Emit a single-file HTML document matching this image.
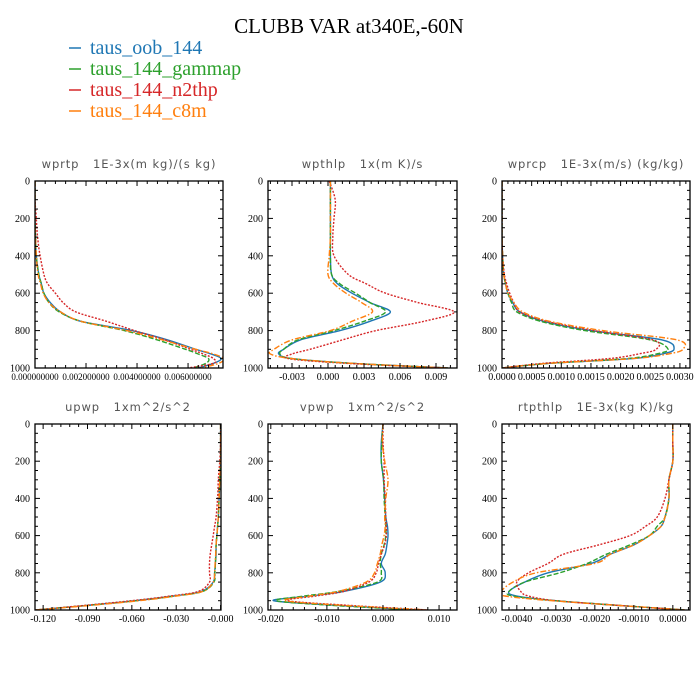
<!DOCTYPE html>
<html><head><meta charset="utf-8"><style>
body{margin:0;background:#fff}
svg{display:block}
.pt{white-space:pre}
</style></head><body>
<svg id="chart" width="700" height="700" viewBox="0 0 700 700" xmlns="http://www.w3.org/2000/svg">
<rect width="700" height="700" fill="#fff"/>
<text x="349" y="33" text-anchor="middle" font-family="Liberation Serif, serif" font-size="21" fill="#000">CLUBB VAR at340E,-60N</text>
<g font-family="Liberation Serif, serif" font-size="20">
<g><line x1="69" y1="48" x2="81" y2="48" stroke="#1f77b4" stroke-width="1.5"/><text x="90" y="54" fill="#1f77b4">taus_oob_144</text></g>
<g><line x1="69" y1="69" x2="81" y2="69" stroke="#2ca02c" stroke-width="1.5"/><text x="90" y="75" fill="#2ca02c">taus_144_gammap</text></g>
<g><line x1="69" y1="90" x2="81" y2="90" stroke="#d62728" stroke-width="1.5"/><text x="90" y="96" fill="#d62728">taus_144_n2thp</text></g>
<g><line x1="69" y1="111" x2="81" y2="111" stroke="#ff7f0e" stroke-width="1.5"/><text x="90" y="117" fill="#ff7f0e">taus_144_c8m</text></g>
</g>
<g id="panels"></g>
</svg>
<script>
const levels = [0,100,200,300,400,500,550,600,650,700,750,800,850,900,925,950,975,1000];
const seriesNames = ['taus_oob_144','taus_144_gammap','taus_144_n2thp','taus_144_c8m'];
const yTicks = [0,200,400,600,800,1000];

const wprtpBlue   = [0,0,0,0.02,0.05,0.15,0.25,0.35,0.6,1.0,1.8,3.8,5.2,6.3,6.9,7.3,7.0,6.4];
const wprtpGreen  = [0,0,0,0.02,0.05,0.15,0.25,0.35,0.55,0.95,1.8,3.5,4.8,5.9,6.4,6.8,6.7,6.2];
const wprtpRed    = [0,0,0.05,0.1,0.2,0.35,0.5,0.8,1.1,1.6,2.8,3.9,5.1,6.1,6.6,7.0,7.0,6.0];
const wprtpOrange = [0,0,0,0.02,0.05,0.12,0.22,0.32,0.55,1.0,1.8,3.6,5.0,6.3,7.0,7.4,7.2,6.5];
const wprtpTicks  = [0,2,4,6];
const wprtpLabels = ['0.000000000','0.002000000','0.004000000','0.006000000'];

const wpthlpBlue   = [0.0002,0.0002,0.0002,0.0002,0.0002,0.0003,0.0008,0.002,0.0035,0.0052,0.0035,0.001,-0.0023,-0.0037,-0.0041,-0.003,0.002,0.010];
const wpthlpGreen  = [0.0002,0.0002,0.0002,0.0002,0.0002,0.0003,0.001,0.0023,0.0035,0.0048,0.003,0.0005,-0.0025,-0.0037,-0.004,-0.003,0.002,0.010];
const wpthlpRed    = [0.0001,0.0006,0.0005,0.0004,0.0005,0.0017,0.0032,0.0048,0.0075,0.0105,0.008,0.004,0.0012,-0.0015,-0.003,-0.0033,0.0015,0.010];
const wpthlpOrange = [0.0002,0.0002,0.0002,0.0002,0.0001,0.0,0.0005,0.0015,0.0028,0.0037,0.002,0.0002,-0.003,-0.0045,-0.0048,-0.003,0.002,0.010];
const wpthlpTicks  = [-0.003,0,0.003,0.006,0.009];
const wpthlpLabels = ['-0.003','0.000','0.003','0.006','0.009'];

const wprcpBlue   = [0,0,0,0,0.01,0.03,0.06,0.1,0.18,0.3,0.7,1.5,2.7,2.9,2.7,2.2,0.8,0];
const wprcpGreen  = [0,0,0,0,0.01,0.03,0.06,0.1,0.16,0.25,0.65,1.4,2.5,2.8,2.6,2.1,0.8,0];
const wprcpRed    = [0,0,0,0,0.01,0.04,0.08,0.13,0.2,0.3,0.75,1.55,2.55,2.6,2.3,1.8,0.7,0];
const wprcpOrange = [0,0,0,0,0.01,0.03,0.06,0.1,0.2,0.35,0.8,1.7,2.95,3.05,2.8,2.2,0.8,0];
const wprcpTicks  = [0,0.5,1,1.5,2,2.5,3];
const wprcpLabels = ['0.0000','0.0005','0.0010','0.0015','0.0020','0.0025','0.0030'];

const upwpBlue   = [0,0,0,-0.0005,-0.001,-0.0015,-0.002,-0.0025,-0.003,-0.003,-0.0035,-0.004,-0.005,-0.013,-0.032,-0.058,-0.09,-0.125];
const upwpGreen  = [0,0,0,-0.0005,-0.001,-0.0015,-0.002,-0.0025,-0.003,-0.0032,-0.0035,-0.0038,-0.0045,-0.012,-0.031,-0.057,-0.09,-0.125];
const upwpRed    = [0,0,-0.0005,-0.0015,-0.002,-0.003,-0.004,-0.005,-0.006,-0.007,-0.0075,-0.0075,-0.0075,-0.015,-0.034,-0.06,-0.092,-0.125];
const upwpOrange = [0,0,0,-0.0005,-0.001,-0.0015,-0.002,-0.0025,-0.003,-0.0033,-0.0037,-0.004,-0.005,-0.012,-0.03,-0.055,-0.088,-0.125];
const upwpTicks  = [-0.12,-0.09,-0.06,-0.03,0];
const upwpLabels = ['-0.120','-0.090','-0.060','-0.030','-0.000'];

const vpwpBlue   = [0,-0.0003,-0.0003,0.0001,0.0003,0.0005,0.0008,0.0009,0.0007,0.0004,-0.0003,0.0004,-0.0005,-0.007,-0.013,-0.0195,-0.008,0.006];
const vpwpGreen  = [0,-0.0002,-0.0003,0.0001,0.0002,0.0004,0.0005,0.0005,0.0002,-0.0003,-0.0005,-0.0003,-0.001,-0.008,-0.014,-0.019,-0.009,0.006];
const vpwpRed    = [0,0,0.0002,0.0002,0.0004,0.0005,0.0006,0.0006,0.0003,-0.0003,-0.0008,-0.0012,-0.0025,-0.007,-0.012,-0.017,-0.006,0.008];
const vpwpOrange = [0,-0.0001,0.0003,0.0009,0.0005,0.0003,0.0004,0.0002,-0.0002,-0.0005,-0.001,-0.0015,-0.003,-0.008,-0.013,-0.0175,-0.007,0.008];
const vpwpTicks  = [-0.02,-0.01,0,0.01];
const vpwpLabels = ['-0.020','-0.010','0.000','0.010'];

const rtpthlpBlue   = [0,0,0,-0.1,-0.1,-0.2,-0.3,-0.6,-1.0,-1.6,-2.1,-3.2,-3.8,-4.2,-4.0,-3.0,-1.4,0.3];
const rtpthlpGreen  = [0,0,0,-0.1,-0.1,-0.2,-0.4,-0.6,-1.1,-1.7,-2.2,-2.9,-3.8,-4.2,-4.1,-3.0,-1.4,0.3];
const rtpthlpRed    = [0,0,0,-0.1,-0.2,-0.4,-0.7,-1.1,-1.9,-2.8,-3.2,-3.7,-4.0,-3.9,-3.7,-3.0,-1.4,0.3];
const rtpthlpOrange = [0,0,0,-0.1,-0.1,-0.2,-0.3,-0.6,-1.0,-1.6,-2.0,-3.5,-4.1,-4.4,-4.3,-3.1,-1.4,0.3];
const rtpthlpTicks  = [-4,-3,-2,-1,0];
const rtpthlpLabels = ['-0.0040','-0.0030','-0.0020','-0.0010','0.0000'];

const panels = [
 {name:'wprtp', title:'wprtp   1E-3x(m kg)/(s kg)', box:[35,181,223,368], dom:[0,7.37], ticks:wprtpTicks, labels:wprtpLabels, lfs:9, data:[wprtpBlue,wprtpGreen,wprtpRed,wprtpOrange]},
 {name:'wpthlp', title:'wpthlp   1x(m K)/s', box:[268,181,457,368], dom:[-0.005,0.01075], ticks:wpthlpTicks, labels:wpthlpLabels, lfs:10, data:[wpthlpBlue,wpthlpGreen,wpthlpRed,wpthlpOrange]},
 {name:'wprcp', title:'wprcp   1E-3x(m/s) (kg/kg)', box:[502,181,690,368], dom:[0,3.17], ticks:wprcpTicks, labels:wprcpLabels, lfs:10, data:[wprcpBlue,wprcpGreen,wprcpRed,wprcpOrange]},
 {name:'upwp', title:'upwp   1xm^2/s^2', box:[35,424,221,610], dom:[-0.1255,0.0003], ticks:upwpTicks, labels:upwpLabels, lfs:10, data:[upwpBlue,upwpGreen,upwpRed,upwpOrange]},
 {name:'vpwp', title:'vpwp   1xm^2/s^2', box:[268,424,457,610], dom:[-0.0205,0.0132], ticks:vpwpTicks, labels:vpwpLabels, lfs:10, data:[vpwpBlue,vpwpGreen,vpwpRed,vpwpOrange]},
 {name:'rtpthlp', title:'rtpthlp   1E-3x(kg K)/kg', box:[502,424,690,610], dom:[-4.38,0.44], ticks:rtpthlpTicks, labels:rtpthlpLabels, lfs:10, data:[rtpthlpBlue,rtpthlpGreen,rtpthlpRed,rtpthlpOrange]}
];
const colors = ['#1f77b4','#2ca02c','#d62728','#ff7f0e'];
const dashes = ['', '5,2', '2,1.5', '6,2,1.5,2'];
const NS='http://www.w3.org/2000/svg';
const root=document.getElementById('panels');
function mk(tag,attrs,parent){const e=document.createElementNS(NS,tag);for(const k in attrs)e.setAttribute(k,attrs[k]);parent.appendChild(e);return e;}
function smoothPath(P){
  let d='M'+P[0][0].toFixed(1)+','+P[0][1].toFixed(1);
  for(let i=0;i<P.length-1;i++){
    const p0=P[Math.max(0,i-1)],p1=P[i],p2=P[i+1],p3=P[Math.min(P.length-1,i+2)];
    const c1x=p1[0]+(p2[0]-p0[0])/6,c1y=p1[1]+(p2[1]-p0[1])/6;
    const c2x=p2[0]-(p3[0]-p1[0])/6,c2y=p2[1]-(p3[1]-p1[1])/6;
    d+=' C'+c1x.toFixed(1)+','+c1y.toFixed(1)+' '+c2x.toFixed(1)+','+c2y.toFixed(1)+' '+p2[0].toFixed(1)+','+p2[1].toFixed(1);
  }
  return d;
}

panels.forEach((p,pi)=>{
  const [x0,y0,x1,y1]=p.box;
  const xs=v=>x0+(v-p.dom[0])/(p.dom[1]-p.dom[0])*(x1-x0);
  const ys=v=>y0+v/1000*(y1-y0);
  const g=mk('g',{},root);
  
  
  const t=mk('text',{x:(x0+x1)/2,y:y0-13,'text-anchor':'middle','font-family':'DejaVu Sans, sans-serif','font-size':'11.5',fill:'#555','letter-spacing':'0.9',class:'pt'},g);
  t.textContent=p.title;
  
  
  const cp=mk('clipPath',{id:'clip'+pi},g);
  mk('rect',{x:x0,y:y0,width:x1-x0,height:y1-y0},cp);
  const lines=mk('g',{'clip-path':'url(#clip'+pi+')'},g);
  
  
  p.data.forEach((arr,si)=>{
    const P=arr.map((v,i)=>[xs(v),ys(levels[i])]);
    const pl=mk('path',{d:smoothPath(P),fill:'none',stroke:colors[si],'stroke-width':'1.4','stroke-linejoin':'round'},lines);
    if(dashes[si])pl.setAttribute('stroke-dasharray',dashes[si]);
    
    
  });
  const ax=mk('g',{stroke:'#000','stroke-width':'1'},g);
  
  
  mk('rect',{x:x0,y:y0,width:x1-x0,height:y1-y0,fill:'none','stroke-width':'1.3'},ax);
  for(let v=0;v<=1000;v+=50){
    const L=(v%200===0)?5:3;const y=ys(v);
    mk('line',{x1:x0,y1:y,x2:x0+L,y2:y},ax);
    mk('line',{x1:x1,y1:y,x2:x1-L,y2:y},ax);
  }
  const step=p.ticks[1]-p.ticks[0];
  for(let k=-20;k<=60;k++){
    const v=p.ticks[0]+k*step/5;
    if(v<p.dom[0]-1e-9||v>p.dom[1]+1e-9)continue;
    const L=(k%5===0)?5:3;const x=xs(v);
    mk('line',{x1:x,y1:y1,x2:x,y2:y1-L},ax);
    mk('line',{x1:x,y1:y0,x2:x,y2:y0+L},ax);
  }
  yTicks.forEach(v=>{
    const tt=mk('text',{x:x0-5,y:ys(v)+3.5,'text-anchor':'end','font-family':'Liberation Serif, serif','font-size':'10',fill:'#000'},g);
    tt.textContent=v;
    
    
  });
  p.ticks.forEach((v,i)=>{
    const tt=mk('text',{x:xs(v),y:y1+12,'text-anchor':'middle','font-family':'Liberation Serif, serif','font-size':p.lfs,fill:'#000'},g);
    tt.textContent=p.labels[i];
    
    
  });
});
</script>
</body></html>
